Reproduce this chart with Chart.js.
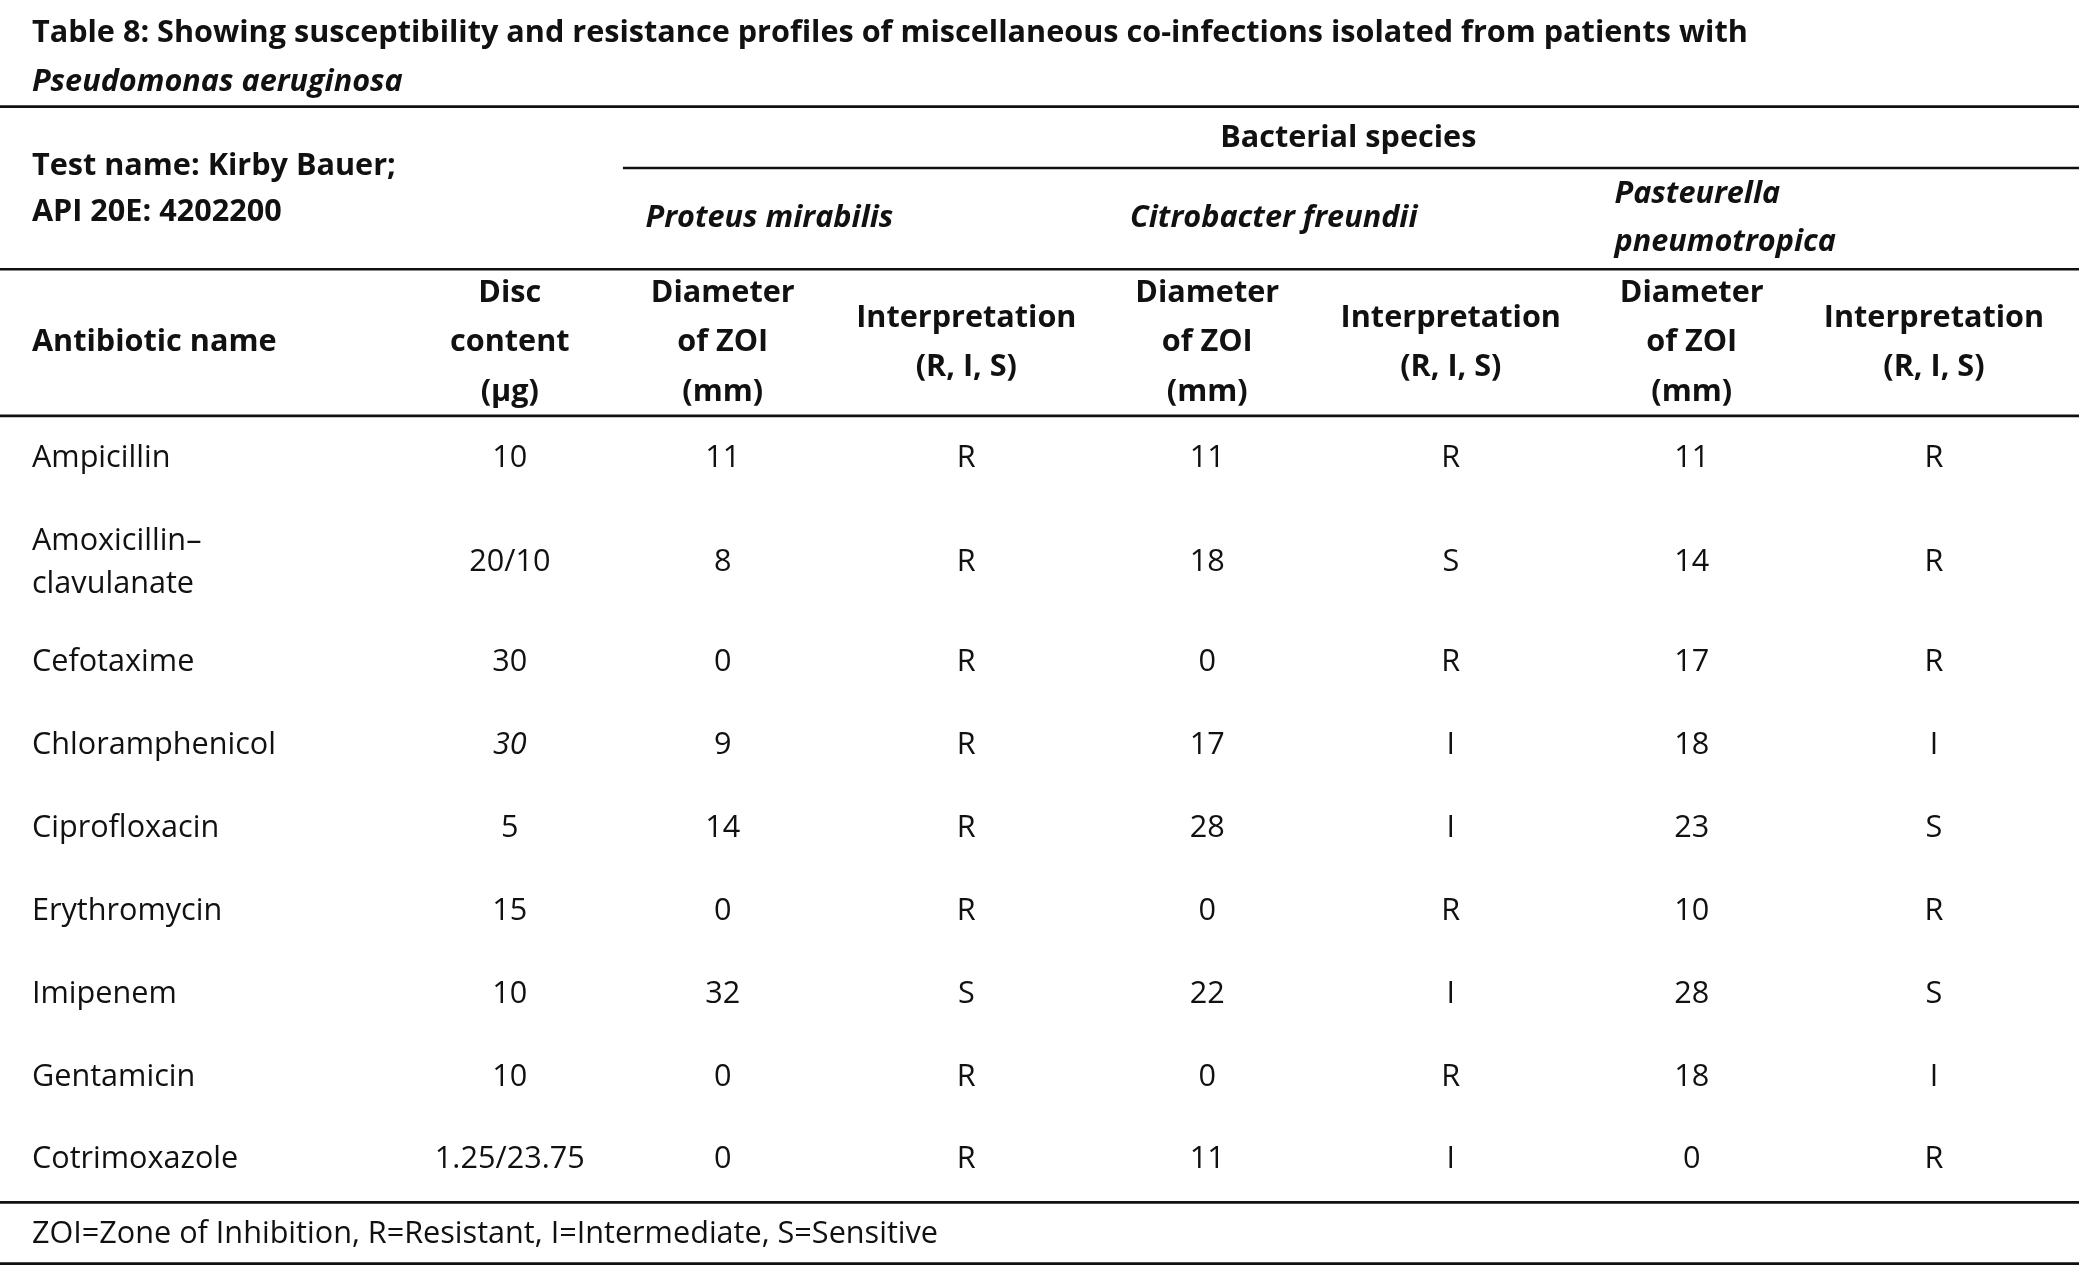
<!DOCTYPE html>
<html><head><meta charset="utf-8">
<script src="https://cdn.jsdelivr.net/npm/chart.js@4"></script>
<style>html,body{margin:0;background:#fff}canvas{display:block}</style>
</head><body>
<canvas id="c" width="2087" height="1273"></canvas>
<script>
// table data
const antibiotics = [['Ampicillin'],['Amoxicillin–','clavulanate'],['Cefotaxime'],['Chloramphenicol'],['Ciprofloxacin'],['Erythromycin'],['Imipenem'],['Gentamicin'],['Cotrimoxazole']];
const discContent = ['10','20/10','30','30','5','15','10','10','1.25/23.75'];
const proteusZoi = ['11','8','0','9','14','0','32','0','0'];
const proteusInt = ['R','R','R','R','R','R','S','R','R'];
const citroZoi = ['11','18','0','17','28','0','22','0','11'];
const citroInt = ['R','S','R','I','I','R','I','R','I'];
const pastZoi = ['11','14','17','18','23','10','28','18','0'];
const pastInt = ['R','R','R','I','S','R','S','I','R'];
const species = [['Proteus mirabilis'],['Citrobacter freundii'],['Pasteurella','pneumotropica']];

// layout in reference units (1568 x 955)
const rowY = [344,422,497,559,621,684,746,808,870];
const colX = [383,543,726,907,1090,1271,1453];
const FONT = '"Open Sans", Lato, sans-serif';

const tablePlugin = {
  id:'table',
  afterDraw(chart){
    const {ctx, scales:{x,y}} = chart;
    const X = v=>x.getPixelForValue(v), Y = v=>y.getPixelForValue(v);
    const k = (X(1568)-X(0))/1568;
    const txt = (s,px,py,opt={})=>{
      ctx.font = (opt.italic?'italic ':'')+(opt.bold?'bold ':'')+(23*k)+'px '+FONT;
      ctx.textAlign = opt.align||'center';
      ctx.textBaseline = 'middle';
      ctx.fillStyle = '#111';
      ctx.fillText(s,X(px),Y(py));
    };
    const lines = (arr,px,py,gap,opt)=>{
      const y0 = py-(arr.length-1)*gap/2;
      arr.forEach((s,i)=>txt(s,px,y0+i*gap,opt));
    };
    const rule = (x0,x1,py,w)=>{
      ctx.strokeStyle='#111'; ctx.lineWidth=w*k;
      ctx.beginPath(); ctx.moveTo(X(x0),Y(py)); ctx.lineTo(X(x1),Y(py)); ctx.stroke();
    };
    ctx.save();
    txt('Table 8: Showing susceptibility and resistance profiles of miscellaneous co-infections isolated from patients with',24,25,{bold:true,align:'left'});
    txt('Pseudomonas aeruginosa',24,62,{bold:true,italic:true,align:'left'});
    rule(0,1562,80,2);
    txt('Test name: Kirby Bauer;',24,125,{bold:true,align:'left'});
    txt('API 20E: 4202200',24,159,{bold:true,align:'left'});
    txt('Bacterial species',1013,104,{bold:true});
    rule(468,1562,126,2);
    lines(species[0],485,164,36,{bold:true,italic:true,align:'left'});
    lines(species[1],849,164,36,{bold:true,italic:true,align:'left'});
    lines(species[2],1213,164,36,{bold:true,italic:true,align:'left'});
    rule(0,1562,202,2);
    txt('Antibiotic name',24,257,{bold:true,align:'left'});
    lines(['Disc','content','(µg)'],colX[0],257,37,{bold:true});
    for(let i=0;i<3;i++){
      lines(['Diameter','of ZOI','(mm)'],colX[1+2*i],257,37,{bold:true});
      lines(['Interpretation','(R, I, S)'],colX[2+2*i],257,37,{bold:true});
    }
    rule(0,1562,312,2);
    const cols = [discContent,proteusZoi,proteusInt,citroZoi,citroInt,pastZoi,pastInt];
    antibiotics.forEach((a,r)=>{
      lines(a,24,rowY[r],32,{align:'left'});
      cols.forEach((c,j)=>txt(c[r],colX[j],rowY[r],{italic: j===0 && r===3}));
    });
    rule(0,1562,902,2);
    txt('ZOI=Zone of Inhibition, R=Resistant, I=Intermediate, S=Sensitive',24,926,{align:'left'});
    rule(0,1562,948,2);
    ctx.restore();
  }
};

new Chart(document.getElementById('c'),{
  type:'scatter',
  data:{datasets:[{data:[]}]},
  options:{
    responsive:false, devicePixelRatio:1, animation:false,
    layout:{padding:0},
    plugins:{legend:{display:false},tooltip:{enabled:false}},
    scales:{
      x:{type:'linear',min:0,max:1568,display:false},
      y:{type:'linear',min:0,max:955,reverse:true,display:false}
    }
  },
  plugins:[tablePlugin]
});
</script>
</body></html>
